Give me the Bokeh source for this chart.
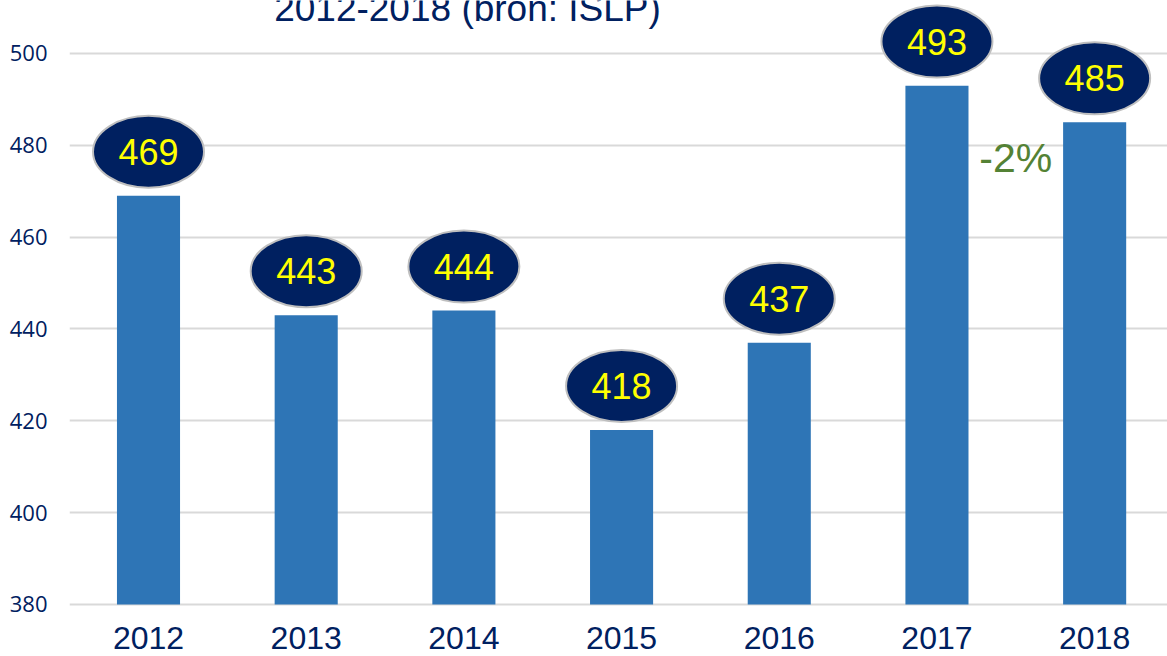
from bokeh.plotting import figure
from bokeh.models import Range1d, Label, FixedTicker, ColumnDataSource
from bokeh.core.properties import value
from bokeh.embed import file_html
from bokeh.resources import INLINE

years = ["2012", "2013", "2014", "2015", "2016", "2017", "2018"]
counts = [469, 443, 444, 418, 437, 493, 485]
y_ticks = [380, 400, 420, 440, 460, 480, 500]
title_text = "2012-2018 (bron: ISLP)"

xs = list(range(len(years)))
base = y_ticks[0]
bubble_offset = 9.6  # ellipse centre above the bar top, in data units
src = ColumnDataSource(dict(
    x=xs, top=counts, label=[str(c) for c in counts],
    by=[c + bubble_offset for c in counts],
))

p = figure(width=1167, height=656, output_backend="svg", toolbar_location=None,
           x_range=Range1d(-0.501, 6.462), y_range=Range1d(379.56, 511.54),
           min_border_left=69, min_border_right=0, min_border_top=0,
           min_border_bottom=50)
p.outline_line_color = None
p.background_fill_color = "white"
p.border_fill_color = "white"

p.vbar(x="x", top="top", bottom=base, width=0.4, source=src,
       fill_color="#2E75B6", line_color=None)

p.ellipse(x="x", y="by", width=111, height=72, width_units="screen",
          height_units="screen", source=src, fill_color="#002060",
          line_color="#BFBFBF", line_width=2)
p.text(x="x", y="by", text="label", source=src, text_align="center",
       text_baseline="middle", text_color="#FFFF00",
       text_font=value("Liberation Sans"), text_font_size="36px")

# change between the last two years
chg = (counts[-1] - counts[-2]) / counts[-2] * 100
p.add_layout(Label(x=len(years) - 1.5, y=477.2, text=f"{chg:.0f}%",
                   text_align="center", text_baseline="alphabetic",
                   text_color="#548235", text_font="Liberation Sans",
                   text_font_size="41px"))

p.add_layout(Label(x=2.023, y=509.8, text=title_text, text_align="center",
                   text_baseline="alphabetic", text_color="#002060",
                   text_font="Liberation Sans", text_font_size="37px"))

p.xgrid.grid_line_color = None
p.ygrid.ticker = FixedTicker(ticks=y_ticks)
p.ygrid.grid_line_color = "#D9D9D9"
p.ygrid.grid_line_width = 2

xa = p.xaxis[0]
xa.ticker = FixedTicker(ticks=xs)
xa.major_label_overrides = {i: y for i, y in enumerate(years)}
xa.axis_line_color = None
xa.major_tick_line_color = None
xa.minor_tick_line_color = None
xa.major_label_standoff = 14
xa.major_label_text_font = "Liberation Sans"
xa.major_label_text_font_size = "32px"
xa.major_label_text_color = "#002060"

ya = p.yaxis[0]
ya.ticker = FixedTicker(ticks=y_ticks)
ya.axis_line_color = None
ya.major_tick_line_color = None
ya.minor_tick_line_color = None
ya.major_tick_out = 0
ya.major_label_standoff = 22
ya.major_label_text_font = "Open Sans"
ya.major_label_text_font_size = "22px"
ya.major_label_text_color = "#002060"

open("out.html", "w").write(file_html(p, INLINE))
